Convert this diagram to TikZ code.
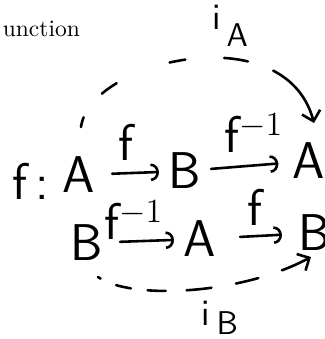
\documentclass[tikz,border=0pt]{standalone}
\usetikzlibrary{arrows.meta}

\begin{document}
\begin{tikzpicture}[
    x=0.4255pt, y=-0.4255pt,
    every node/.style={inner sep=1pt},
    hand/.style={font=\sffamily\fontsize{22}{24}\selectfont},
    tag/.style={font=\sffamily\fontsize{16}{18}\selectfont},
    map/.style={line width=1.1pt, line cap=round, -{Arc Barb[length=3.5pt, width=7.5pt, line width=1.1pt]}},
    loop/.style={line width=1.1pt, line cap=round,
        -{Straight Barb[length=4pt, width=8pt, line width=1.1pt]}},
]
\useasboundingbox (0,0) rectangle (325,339);

\node[anchor=base west, font=\fontsize{10}{12}\selectfont] (fun) at (0,36) {unction};

% top row
\node[hand] (fc) at (31,181) {f\,:};
\node[hand] (a1) at (79,175) {A};
\node[hand] (b1) at (185,171) {B};
\node[hand] (a2) at (309,161) {A};
\draw[map, shorten <=6pt, shorten >=3pt] (a1) -- (b1);
\draw[map, shorten <=3pt, shorten >=5pt] (b1) -- (a2);
\node[hand] (f1) at (126,142) {f};
\node[hand] (f2) at (254,133) {f$^{-1}$};

% bottom row
\node[hand] (b2) at (87,243) {B};
\node[hand] (a3) at (200,239) {A};
\node[hand] (b3) at (315,233) {B};
\draw[map, shorten <=6pt, shorten >=3pt] (b2) -- (a3);
\draw[map, shorten <=9pt, shorten >=6pt] (a3) -- (b3);
\node[hand] (f3) at (134,220) {f$^{-1}$};
\node[hand] (f4) at (255,207) {f};

% identities
\node[tag] (ia) at (230,26) {i\,\raisebox{-7pt}{\fontsize{14}{16}\selectfont A}};
\node[tag] (ib) at (220,318) {i\,\raisebox{-4pt}{\fontsize{14}{16}\selectfont B}};
\coordinate (sa) at (81,127);
\coordinate (ea) at (314,123);
\draw[loop, dash pattern=on 4.3pt off 12.8pt on 7.7pt off 24.3pt on 6.8pt off 16.6pt on 10.2pt off 11.5pt on 60pt]
    (sa) .. controls (90,60) and (285,15) .. (ea);
\coordinate (sb) at (98,277);
\coordinate (eb) at (311,257);
\draw[loop, dash pattern=on 1.3pt off 7.2pt on 6.4pt off 7.2pt on 7.7pt off 8.9pt on 10.6pt off 10.6pt on 9.8pt off 10.6pt on 30pt]
    (sb) .. controls (130,300) and (240,295) .. (eb);
\end{tikzpicture}
\end{document}
